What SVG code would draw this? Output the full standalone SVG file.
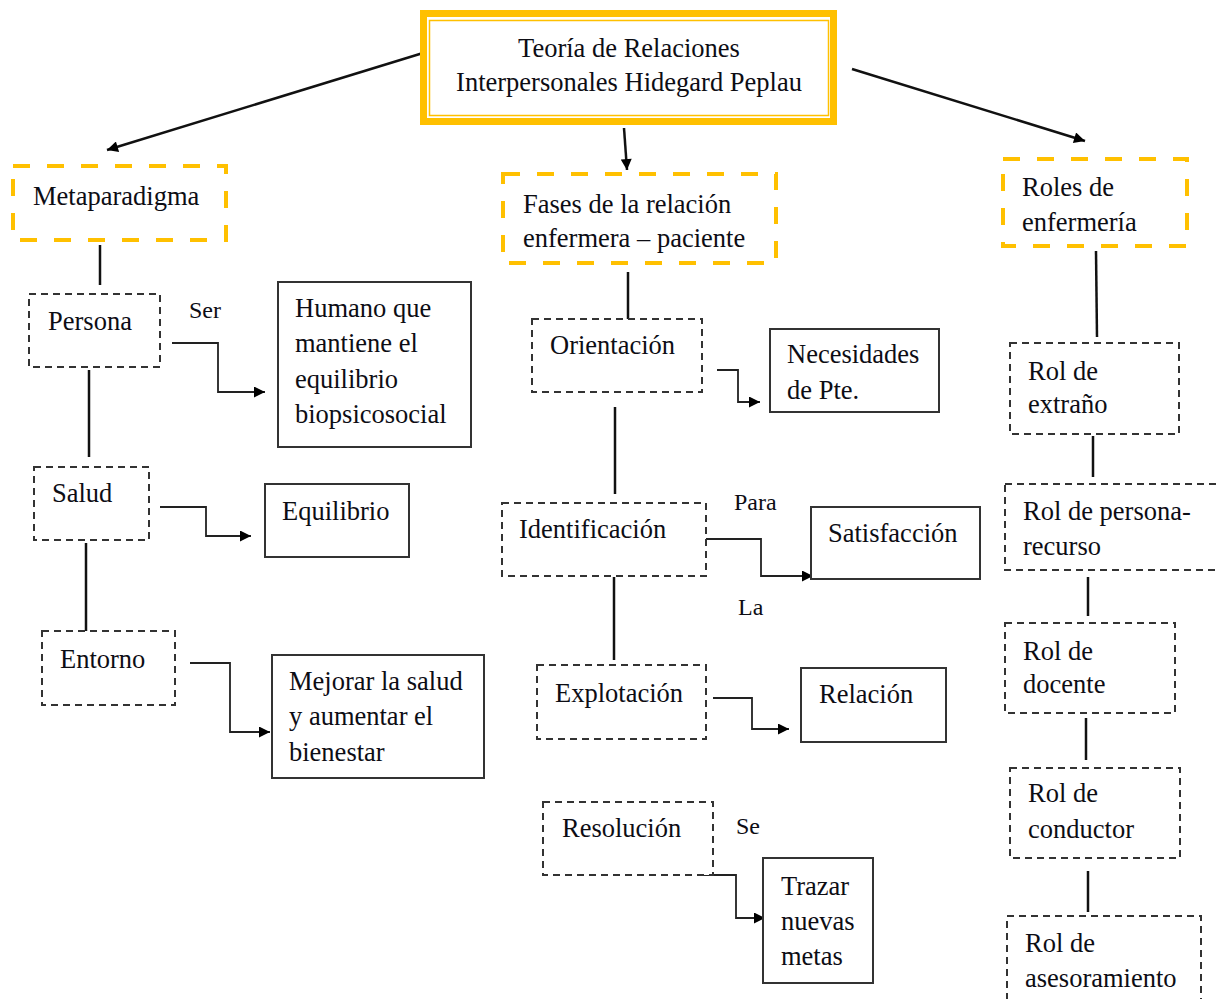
<svg xmlns="http://www.w3.org/2000/svg" width="1217" height="999" viewBox="0 0 1217 999">
<defs>
<marker id="ah" viewBox="0 0 10 10" refX="10" refY="5" markerWidth="13" markerHeight="11" markerUnits="userSpaceOnUse" orient="auto"><path d="M0,0 L10,5 L0,10 z" fill="#000"/></marker>
<marker id="ahs" viewBox="0 0 10 10" refX="10" refY="5" markerWidth="12" markerHeight="11" markerUnits="userSpaceOnUse" orient="auto"><path d="M0,0 L10,5 L0,10 z" fill="#000"/></marker>
</defs>
<style>
text{font-family:"Liberation Serif","Times New Roman",serif;font-size:26.5px;fill:#0d0d14}
.lbl{font-size:24px}
.gold{fill:#fff;stroke:#FFC000;stroke-width:4;stroke-dasharray:17 17}
.dash{fill:#fff;stroke:#333;stroke-width:2;stroke-dasharray:7 5}
.solid{fill:#fff;stroke:#333;stroke-width:2}
.ln{fill:none;stroke:#111;stroke-width:2.5}
.el{fill:none;stroke:#222;stroke-width:1.8}
</style>
<rect width="1217" height="999" fill="#fff"/>
<g id="connectors">
<line class="ln" x1="423" y1="53" x2="107" y2="150" marker-end="url(#ah)"/>
<line class="ln" x1="624" y1="128" x2="627" y2="170" marker-end="url(#ah)"/>
<line class="ln" x1="852" y1="69" x2="1085" y2="141" marker-end="url(#ah)"/>
<line class="ln" x1="100" y1="245" x2="100" y2="285"/>
<line class="ln" x1="89" y1="370" x2="89" y2="457"/>
<line class="ln" x1="86" y1="543" x2="86" y2="631"/>
<polyline class="el" points="172,343 218,343 218,392 265,392" marker-end="url(#ahs)"/>
<polyline class="el" points="160,507 206,507 206,536 251,536" marker-end="url(#ahs)"/>
<polyline class="el" points="190,663 230,663 230,732 270,732" marker-end="url(#ahs)"/>
<line class="ln" x1="628" y1="272" x2="628" y2="320"/>
<line class="ln" x1="615" y1="407" x2="615" y2="494"/>
<line class="ln" x1="614" y1="577" x2="614" y2="660"/>
<polyline class="el" points="717,370 738,370 738,402 760,402" marker-end="url(#ahs)"/>
<polyline class="el" points="706,539 761,539 761,576 813,576" marker-end="url(#ahs)"/>
<polyline class="el" points="713,698 752,698 752,729 789,729" marker-end="url(#ahs)"/>
<polyline class="el" points="703,875 736,875 736,918 765,918" marker-end="url(#ahs)"/>
<line class="ln" x1="1096" y1="251" x2="1097" y2="337"/>
<line class="ln" x1="1093" y1="436" x2="1093" y2="477"/>
<line class="ln" x1="1088" y1="577" x2="1088" y2="616"/>
<line class="ln" x1="1086" y1="718" x2="1086" y2="760"/>
<line class="ln" x1="1088" y1="871" x2="1088" y2="912"/>
<text class="lbl" x="189" y="318">Ser</text>
<text class="lbl" x="734" y="510">Para</text>
<text class="lbl" x="738" y="615">La</text>
<text class="lbl" x="736" y="834">Se</text>
</g>
<g id="n-title">
<rect x="423.5" y="13.5" width="410" height="108" fill="#fff" stroke="#FFC000" stroke-width="7"/>
<rect x="429.5" y="20.5" width="399" height="95" fill="none" stroke="#FFC000" stroke-width="1.5"/>
<text x="629" y="57" text-anchor="middle">Teoría de Relaciones</text>
<text x="629" y="91" text-anchor="middle">Interpersonales Hidegard Peplau</text>
</g>
<g id="n-metaparadigma">
<rect class="gold" x="13" y="166" width="213" height="74"/>
<text x="33" y="205">Metaparadigma</text>
</g>
<g id="n-persona">
<rect class="dash" x="29" y="294" width="131" height="73"/>
<text x="48" y="330">Persona</text>
</g>
<g id="n-humano">
<rect class="solid" x="278" y="282" width="193" height="165"/>
<text x="295" y="317">Humano que</text>
<text x="295" y="352">mantiene el</text>
<text x="295" y="388">equilibrio</text>
<text x="295" y="423">biopsicosocial</text>
</g>
<g id="n-salud">
<rect class="dash" x="34" y="467" width="115" height="73"/>
<text x="52" y="502">Salud</text>
</g>
<g id="n-equilibrio">
<rect class="solid" x="265" y="484" width="144" height="73"/>
<text x="282" y="520">Equilibrio</text>
</g>
<g id="n-entorno">
<rect class="dash" x="42" y="631" width="133" height="74"/>
<text x="60" y="668">Entorno</text>
</g>
<g id="n-mejorar">
<rect class="solid" x="272" y="655" width="212" height="123"/>
<text x="289" y="690">Mejorar la salud</text>
<text x="289" y="725">y aumentar el</text>
<text x="289" y="761">bienestar</text>
</g>
<g id="n-fases">
<rect class="gold" x="503" y="174" width="273" height="89"/>
<text x="523" y="213">Fases de la relación</text>
<text x="523" y="247">enfermera – paciente</text>
</g>
<g id="n-orientacion">
<rect class="dash" x="532" y="319" width="170" height="73"/>
<text x="550" y="354">Orientación</text>
</g>
<g id="n-necesidades">
<rect class="solid" x="770" y="329" width="169" height="83"/>
<text x="787" y="363">Necesidades</text>
<text x="787" y="399">de Pte.</text>
</g>
<g id="n-identificacion">
<rect class="dash" x="502" y="503" width="204" height="73"/>
<text x="519" y="538">Identificación</text>
</g>
<g id="n-satisfaccion">
<rect class="solid" x="811" y="507" width="169" height="72"/>
<text x="828" y="542">Satisfacción</text>
</g>
<g id="n-explotacion">
<rect class="dash" x="537" y="665" width="169" height="74"/>
<text x="555" y="702">Explotación</text>
</g>
<g id="n-relacion">
<rect class="solid" x="801" y="668" width="145" height="74"/>
<text x="819" y="703">Relación</text>
</g>
<g id="n-resolucion">
<rect class="dash" x="543" y="802" width="170" height="73"/>
<text x="562" y="837">Resolución</text>
</g>
<g id="n-trazar">
<rect class="solid" x="763" y="858" width="110" height="125"/>
<text x="781" y="895">Trazar</text>
<text x="781" y="930">nuevas</text>
<text x="781" y="965">metas</text>
</g>
<g id="n-roles">
<rect class="gold" x="1003" y="159" width="184" height="87"/>
<text x="1022" y="196">Roles de</text>
<text x="1022" y="231">enfermería</text>
</g>
<g id="n-extrano">
<rect class="dash" x="1010" y="343" width="169" height="91"/>
<text x="1028" y="380">Rol de</text>
<text x="1028" y="413">extraño</text>
</g>
<g id="n-persona-recurso">
<rect class="dash" x="1005" y="484" width="230" height="86"/>
<text x="1023" y="520">Rol de persona-</text>
<text x="1023" y="555">recurso</text>
</g>
<g id="n-docente">
<rect class="dash" x="1005" y="623" width="170" height="90"/>
<text x="1023" y="660">Rol de</text>
<text x="1023" y="693">docente</text>
</g>
<g id="n-conductor">
<rect class="dash" x="1010" y="768" width="170" height="90"/>
<text x="1028" y="802">Rol de</text>
<text x="1028" y="838">conductor</text>
</g>
<g id="n-asesoramiento">
<rect class="dash" x="1007" y="916" width="194" height="100"/>
<text x="1025" y="952">Rol de</text>
<text x="1025" y="987">asesoramiento</text>
</g>
</svg>
